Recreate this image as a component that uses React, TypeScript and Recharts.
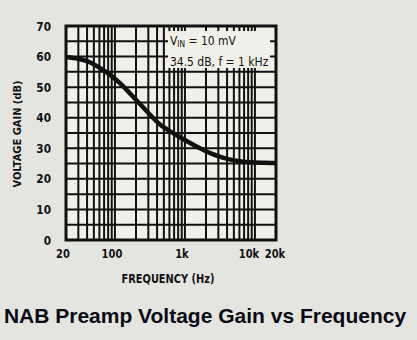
import React from "react";
import {
  LineChart,
  Line,
  XAxis,
  YAxis,
  ReferenceLine,
  ReferenceArea,
} from "recharts";

// Frequency (Hz) and voltage gain (dB)
const freqs = [20, 30, 40, 61, 85, 118, 160, 228, 320, 440, 600, 850, 1170, 1640, 2300, 3200, 4470, 6000, 8700, 13000, 20000];
const gainDb = [59.8, 59.3, 58.5, 56.3, 54.0, 51.3, 48.2, 44.5, 40.9, 37.8, 35.7, 33.6, 31.8, 30.0, 28.4, 27.2, 26.3, 25.8, 25.4, 25.25, 25.2];

const xTicks = [20, 100, 1000, 10000, 20000];
const xTickLabels = ["20", "100", "1k", "10k", "20k"];
const yTicks = [0, 10, 20, 30, 40, 50, 60, 70];
const xGrid = [
  30, 40, 50, 60, 70, 80, 90, 100,
  200, 300, 400, 500, 600, 700, 800, 900, 1000,
  2000, 3000, 4000, 5000, 6000, 7000, 8000, 9000, 10000,
];
const yGrid = [5, 10, 15, 20, 25, 30, 35, 40, 45, 50, 55, 60, 65];

const data = freqs.map((f, i) => ({ f, g: gainDb[i] }));

const FONT = "'DejaVu Sans Condensed', 'Liberation Sans Narrow', 'Liberation Sans', sans-serif";
const INK = "#111";
const PLOT_BG = "#f1f0e8";

const XTick = (props: any) => {
  const { x, y, payload, index } = props;
  const i = xTicks.indexOf(payload.value);
  const label = i >= 0 ? xTickLabels[i] : String(payload.value);
  const n = xTicks.length;
  // crowded last two labels are nudged apart, as in the printed chart
  const dx = index === n - 1 ? -1 : index === n - 2 ? -6 : -3;
  return (
    <g transform={`translate(${x + dx},${y + 12})`}>
      <text
        transform="scale(0.85,1)"
        textAnchor="middle"
        fill={INK}
        fontSize={13}
        fontWeight={700}
        fontFamily={FONT}
      >
        {label}
      </text>
    </g>
  );
};

const YTick = (props: any) => {
  const { x, y, payload } = props;
  return (
    <g transform={`translate(${x},${y + 4.5})`}>
      <text
        transform="scale(0.9,1)"
        textAnchor="end"
        fill={INK}
        fontSize={13}
        fontWeight={700}
        fontFamily={FONT}
      >
        {payload.value}
      </text>
    </g>
  );
};

export default function App() {
  return (
    <div
      style={{
        position: "absolute",
        left: 0,
        top: 0,
        width: 417,
        height: 340,
        background: "#e5e5e0",
        overflow: "hidden",
        fontFamily: FONT,
      }}
    >
      <LineChart
        width={417}
        height={340}
        data={data}
        margin={{ top: 26, right: 141, bottom: 70, left: 16 }}
      >
        <XAxis
          dataKey="f"
          type="number"
          scale="log"
          domain={[20, 20000]}
          ticks={xTicks}
          interval={0}
          axisLine={false}
          tickLine={false}
          tickMargin={0}
          height={30}
          allowDataOverflow
          tick={<XTick />}
        />
        <YAxis
          type="number"
          domain={[0, 70]}
          ticks={yTicks}
          interval={0}
          axisLine={false}
          tickLine={false}
          tickMargin={9}
          width={50}
          allowDataOverflow
          tick={<YTick />}
        />
        <ReferenceArea
          x1={20}
          x2={20000}
          y1={0}
          y2={70}
          fill={PLOT_BG}
          fillOpacity={1}
          stroke="none"
        />
        {xGrid.map((x) => (
          <ReferenceLine key={"x" + x} x={x} stroke={INK} strokeWidth={2} />
        ))}
        {yGrid.map((y) => (
          <ReferenceLine key={"y" + y} y={y} stroke={INK} strokeWidth={2} />
        ))}
        <ReferenceArea
          x1={20}
          x2={20000}
          y1={0}
          y2={70}
          fill="none"
          stroke={INK}
          strokeWidth={3}
        />
        <Line
          type="monotone"
          dataKey="g"
          stroke={INK}
          strokeWidth={4.5}
          dot={false}
          isAnimationActive={false}
        />
      </LineChart>

      {/* annotation box */}
      <div
        style={{
          position: "absolute",
          left: 168,
          top: 31,
          width: 102,
          height: 37,
          background: PLOT_BG,
        }}
      />
      <div
        style={{
          position: "absolute",
          left: 170,
          top: 32,
          color: INK,
          fontSize: 13,
          lineHeight: "17px",
          fontFamily: FONT,
          whiteSpace: "nowrap",
          transform: "scaleX(0.92)",
          transformOrigin: "left top",
        }}
      >
        <div>
          V<sub style={{ fontSize: 9, verticalAlign: "-2px" }}>IN</sub> = 10 mV
        </div>
        <div>34.5 dB, f = 1 kHz</div>
      </div>

      {/* y axis title */}
      <div
        style={{
          position: "absolute",
          left: 17,
          top: 134,
          transform: "translate(-50%, -50%) rotate(-90deg)",
          fontSize: 11,
          fontWeight: 700,
          color: INK,
          whiteSpace: "nowrap",
          fontFamily: FONT,
        }}
      >
        VOLTAGE GAIN (dB)
      </div>

      {/* x axis title */}
      <div
        style={{
          position: "absolute",
          left: 168,
          top: 278,
          transform: "translate(-50%, -50%) scaleX(0.84)",
          fontSize: 13,
          fontWeight: 700,
          color: INK,
          whiteSpace: "nowrap",
          fontFamily: FONT,
        }}
      >
        FREQUENCY (Hz)
      </div>

      {/* chart title */}
      <div
        style={{
          position: "absolute",
          left: 205,
          top: 316,
          transform: "translate(-50%, -50%)",
          fontSize: 21,
          fontWeight: 700,
          color: "#0a0a14",
          whiteSpace: "nowrap",
          fontFamily: "'Liberation Sans', Arial, sans-serif",
        }}
      >
        NAB Preamp Voltage Gain vs Frequency
      </div>
    </div>
  );
}
